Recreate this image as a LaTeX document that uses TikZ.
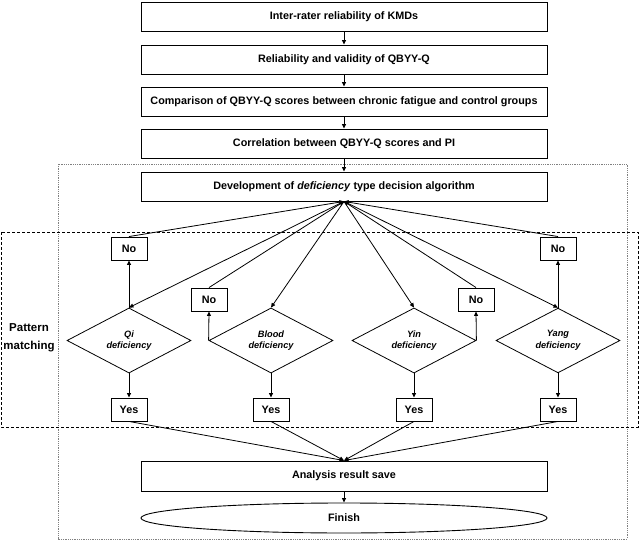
\documentclass[tikz,border=0pt]{standalone}
\usepackage{fontspec}
\setmainfont{Liberation Sans}
\usetikzlibrary{arrows.meta,shapes.geometric}
\begin{document}
\begin{tikzpicture}[x=1pt,y=-1pt,
  font=\fontsize{10.8}{12}\selectfont\bfseries,
  wide/.style={draw,line width=0.9pt,minimum width=406pt,minimum height=29pt,inner sep=0pt},
  small/.style={draw,line width=0.9pt,minimum width=36pt,minimum height=23pt,inner sep=0pt},
  dia/.style={draw,diamond,line width=0.8pt,minimum width=124pt,minimum height=59pt,inner sep=0pt,align=center,font=\fontsize{9.2}{11.5}\selectfont\bfseries\itshape},
  arr/.style={line width=0.8pt,-{Triangle[length=4.5pt,width=4pt]}}]
\useasboundingbox (0,0) rectangle (640,540);
% frames
\draw[gray,densely dotted,line width=0.8pt] (58,164) rectangle (627,539);
\draw[densely dashed,line width=0.7pt] (1,232) rectangle (638,427);
\node[align=center,font=\fontsize{11.5}{13}\selectfont\bfseries] (pm) at (29,338) {Pattern\\[5pt]matching};
% main column
\node[wide] (b1) at (344,17) {Inter-rater reliability of KMDs};
\node[wide] (b2) at (344,59.5) {Reliability and validity of QBYY-Q};
\node[wide] (b3) at (344,101.5) {Comparison of QBYY-Q scores between chronic fatigue and control groups};
\node[wide] (b4) at (344,143.5) {Correlation between QBYY-Q scores and PI};
\node[wide] (b5) at (344,186.5) {Development of \textit{deficiency} type decision algorithm};
% diamonds
\node[dia] (qi) at (129,340.5) {Qi\\deficiency};
\node[dia] (bl) at (271,340.5) {Blood\\deficiency};
\node[dia] (yi) at (414,340.5) {Yin\\deficiency};
\node[dia] (ya) at (558,340.5) {Yang\\deficiency};
% no boxes
\node[small] (qino) at (129,248.5) {No};
\node[small] (yano) at (558,248.5) {No};
\node[small] (blno) at (209,299.5) {No};
\node[small] (yino) at (476,299.5) {No};
% yes boxes
\node[small] (qiy) at (129,409.5) {Yes};
\node[small] (bly) at (271,409.5) {Yes};
\node[small] (yiy) at (414,409.5) {Yes};
\node[small] (yay) at (558,409.5) {Yes};
% bottom
\node[wide,minimum height=30pt] (an) at (344,476) {Analysis result save};
\node[draw,ellipse,line width=0.9pt,minimum width=406pt,minimum height=30pt,inner sep=0pt] (fin) at (344,518) {Finish};
% connectors
\draw[arr] (b1) -- (b2);
\draw[arr] (b2) -- (b3);
\draw[arr] (b3) -- (b4);
\draw[arr] (b4) -- (b5);
\foreach \d in {qi,bl,yi,ya} \draw[arr] (b5.south) -- (\d.north);
\foreach \n in {qino,blno,yino,yano} \draw[arr] (\n.north) -- (b5.south);
\draw[arr] (qi.north) -- (qino.south);
\draw[arr] (ya.north) -- (yano.south);
\draw[arr] (bl.west) -- (blno.south);
\draw[arr] (yi.east) -- (yino.south);
\draw[arr] (qi.south) -- (qiy.north);
\draw[arr] (bl.south) -- (bly.north);
\draw[arr] (yi.south) -- (yiy.north);
\draw[arr] (ya.south) -- (yay.north);
\foreach \y in {qiy,bly,yiy,yay} \draw[arr] (\y.south) -- (an.north);
\draw[arr] (an) -- (fin);
\end{tikzpicture}
\end{document}
